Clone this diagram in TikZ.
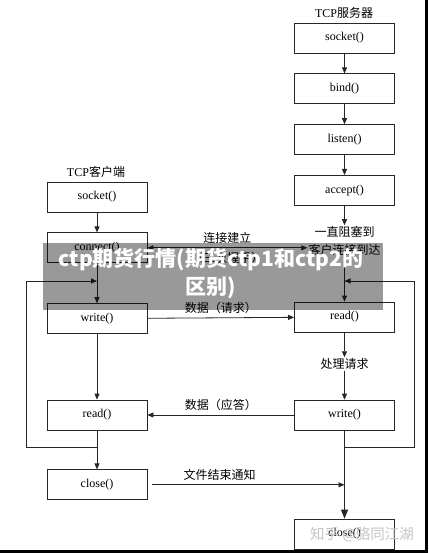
\documentclass[tikz,border=0pt]{standalone}
\usepackage{fontspec}
\setmainfont{Liberation Serif}
\newfontfamily\cjk{Noto Sans CJK SC}
\usepackage{xcolor}
\definecolor{cLine}{HTML}{262626}
\definecolor{cMark}{HTML}{C4C4C4}
\usetikzlibrary{positioning,arrows.meta}
\tikzset{
  node-box/.style={draw=cLine,line width=0.8pt,minimum height=30pt,
    minimum width=100pt,inner sep=0pt,font=\fontsize{12}{14}\selectfont},
  node-text/.style={inner sep=1pt,align=center,
    font=\fontsize{12}{18}\selectfont\cjk},
  arrow/.style={-{Triangle[length=6pt,width=5pt]},line width=0.8pt,draw=cLine},
  arrow-both/.style={{Triangle[length=6pt,width=5pt]}-{Triangle[length=6pt,width=5pt]},
    line width=0.8pt,draw=cLine},
  arrow-big/.style={-{Triangle[length=9pt,width=7pt]},line width=0.8pt,draw=cLine},
}

\begin{document}
\begin{tikzpicture}[x=1pt,y=-1pt,node distance=20pt]
  \useasboundingbox (0,0) rectangle (428,553);
  % server side
  \node[node-text] (srv-title) at (344,13) {{\rmfamily TCP}服务器};
  \node[node-box] (srv-socket) at (344.5,38) {socket()};
  \node[node-box,below=of srv-socket] (srv-bind) {bind()};
  \node[node-box,below=of srv-bind] (srv-listen) {listen()};
  \node[node-box,below=of srv-listen] (srv-accept) {accept()};
  \node[node-text] (srv-wait) at (344.5,241) {一直阻塞到\\客户连接到达};
  \node[node-box] (srv-read) at (344.5,317) {read()};
  \node[node-text] (srv-proc) at (344.5,364) {处理请求};
  \node[node-box] (srv-write) at (344.5,415) {write()};
  \node[node-box] (srv-close) at (344.5,534) {close()};
  % client side
  \node[node-text] (cli-title) at (96,172) {{\rmfamily TCP}客户端};
  \node[node-box] (cli-socket) at (97,197) {socket()};
  \node[node-box,below=of cli-socket] (cli-connect) {connect()};
  \node[node-box,below=40pt of cli-connect] (cli-write) {write()};
  \node[node-box] (cli-read) at (97,415) {read()};
  \node[node-box,below=39pt of cli-read] (cli-close) {close()};

  \coordinate (srv-loop) at (414,281);
  \coordinate (cli-loop) at (26,281);
  \coordinate (eof-end) at (cli-close -| srv-write);

  \draw[arrow] (srv-socket) -- (srv-bind);
  \draw[arrow] (srv-bind) -- (srv-listen);
  \draw[arrow] (srv-listen) -- (srv-accept);
  \draw[arrow] (srv-accept) -- (srv-wait);
  \draw[arrow] (srv-wait) -- (srv-read);
  \draw[arrow] (srv-read) -- (srv-proc);
  \draw[arrow] (srv-proc) -- (srv-write);
  \draw[arrow-big] (srv-write) -- (srv-close);
  \draw[arrow] ([yshift=-17pt]srv-write.south) -| (srv-loop) -- (srv-loop -| srv-read);

  \draw[arrow] (cli-socket) -- (cli-connect);
  \draw[arrow] (cli-connect) -- (cli-write);
  \draw[arrow] (cli-write) -- (cli-read);
  \draw[arrow] (cli-read) -- (cli-close);
  \draw[arrow] ([yshift=-17pt]cli-read.south) -| (cli-loop) -- (cli-loop -| cli-write);

  \draw[arrow-both] (cli-connect.east) -- (cli-connect.east -| srv-wait.west)
    node[node-text,midway,above=3pt] (lbl-conn) {连接建立}
    node[node-text,midway,below=3pt] (lbl-shake) {（三次握手）};
  \draw[arrow] (cli-write) -- (srv-read)
    node[node-text,midway,above=3pt] (lbl-req) {数据（请求）};
  \draw[arrow] (srv-write) -- (cli-read)
    node[node-text,midway,above=3pt] (lbl-resp) {数据（应答）};
  \draw[arrow] ([xshift=5pt]cli-close.east) -- (eof-end)
    node[node-text,pos=0.35,above=3pt] (lbl-eof) {文件结束通知};

  % overlays
  \fill[black,fill opacity=0.4] (43,243) rectangle (383,310);
  \node[text=white,align=center,font=\fontsize{21}{28}\selectfont\cjk\bfseries]
    (banner) at (211,274) {ctp期货行情(期货ctp1和ctp2的\\区别)};
  \node[text=cMark,font=\fontsize{14.5}{14}\selectfont\cjk] (mark) at (362,535)
    {知乎 @骆同江湖};
  \fill[black] (425,0) rectangle (428,553);
  \fill[black] (0,550) rectangle (428,553);
\end{tikzpicture}
\end{document}
